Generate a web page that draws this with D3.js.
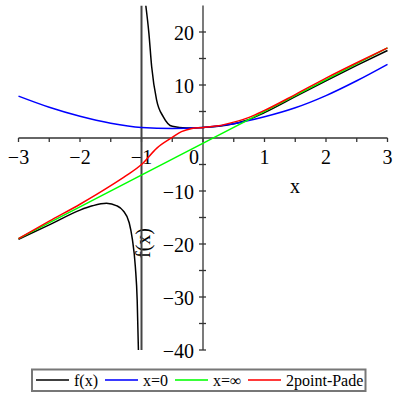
<!DOCTYPE html>
<html lang="en">
<head>
    <title>2point Pade</title>
    <script src="https://d3js.org/d3.v7.min.js"></script>
    <style>
        body { margin: 0; background: #fff; }
        text { font-family: "Liberation Serif", "Times New Roman", serif; fill: #000; }
        .curve { fill: none; stroke-width: 1.5; }
    </style>
</head>
<body>

<script>
    // values
    const xTicks = [-3, -2, -1, 0, 1, 2, 3];
    const yTicks = [-40, -30, -20, -10, 10, 20];
    const xMinor = [-2.5, -1.5, -0.5, 0.5, 1.5, 2.5];
    const yMinor = [-35, -25, -15, -5, 5, 15];
    const pole = -1;

    const fLeft = [[-3,-19.1],[-2.5,-16.4],[-2,-13.6],[-1.8,-12.8],[-1.57,-12.3],[-1.4,-12.8],
                   [-1.3,-13.7],[-1.2,-16],[-1.15,-19],[-1.1,-24.3],[-1.07,-30.6],[-1.05,-40]];
    const fRight = [[-0.93,25],[-0.88,19.8],[-0.835,13.5],[-0.755,7.2],[-0.645,4.0],[-0.5,2.2],
                    [-0.27,1.9],[0,2.0],[0.25,2.2],[0.5,2.7],[0.75,3.5],[1,4.8],[1.5,7.8],
                    [2,10.8],[2.5,13.7],[3,16.5]];
    const taylor0 = [[-3,7.9],[-2.5,5.8],[-2,4.1],[-1.5,2.8],[-1,2.0],[-0.5,1.8],[0,2.0],
                     [0.5,2.7],[1,4.0],[1.5,5.7],[2,8.0],[2.5,10.8],[3,13.9]];
    const asympt = [[-3,-19],[3,17]];
    const pade = [[-3,-19],[-2.5,-15.7],[-2,-12.5],[-1.5,-9.0],[-1.25,-7.1],[-1,-5.0],[-0.75,-1.9],
                  [-0.5,0.1],[-0.35,1.2],[-0.18,1.8],[0,2.0],[0.25,2.3],[0.5,3.0],[0.75,3.9],
                  [1,5.2],[1.5,8.2],[2,11.3],[2.5,14.2],[3,17.0]];

    const legendNames = ["f(x)", "x=0", "x=\u221e", "2point-Pade"];
    const colors = ["#000000", "#0000ff", "#00ff00", "#ff0000"];
    const legendColors = ["#404040", "#3a3aff", "#3aff3a", "#ff3a3a"];

    const svg = d3.select("body").append("svg").attr("width", 400).attr("height", 400);

    const x = d3.scaleLinear().domain([-3, 3]).range([18.5, 387.5]);
    const y = d3.scaleLinear().domain([-40, 25]).range([350, 5.5]);

    svg.append("clipPath").attr("id", "clip")
        .append("rect").attr("x", 0).attr("y", y(25)).attr("width", 400).attr("height", y(-40) - y(25));

    // axes
    const ax = svg.append("g").attr("stroke", "#333").attr("stroke-width", 1.3);
    ax.append("line").attr("x1", x(-3)).attr("x2", x(3)).attr("y1", y(0)).attr("y2", y(0));
    ax.append("line").attr("x1", x(0)).attr("x2", x(0)).attr("y1", y(25)).attr("y2", y(-40));
    ax.selectAll(".xt").data(xTicks.concat(xMinor)).join("line")
        .attr("x1", d => x(d)).attr("x2", d => x(d))
        .attr("y1", y(0)).attr("y2", y(0) + 4);
    ax.selectAll(".yt").data(yTicks.concat(yMinor)).join("line")
        .attr("x1", x(0) - 4).attr("x2", x(0) + 3)
        .attr("y1", d => y(d)).attr("y2", d => y(d));

    svg.append("g").selectAll("text").data(xTicks).join("text")
        .attr("x", d => x(d) + (d === 0 ? -9 : 0)).attr("y", y(0) + 26)
        .attr("text-anchor", "middle").style("font-size", "20px")
        .text(d => d < 0 ? "\u2212" + Math.abs(d) : d);
    svg.append("g").selectAll("text").data(yTicks).join("text")
        .attr("x", x(0) - 9).attr("y", d => y(d) + 8)
        .attr("text-anchor", "end").style("font-size", "20px")
        .text(d => d < 0 ? "\u2212" + Math.abs(d) : d);

    svg.append("text").attr("x", 295).attr("y", 193).attr("text-anchor", "middle")
        .style("font-size", "20px").text("x");
    svg.append("text").attr("transform", "translate(150,243) rotate(-90)")
        .attr("text-anchor", "middle").style("font-size", "20px").text("f(x)");

    // curves
    const line = d3.line().x(d => x(d[0])).y(d => y(d[1])).curve(d3.curveMonotoneX);
    const plot = svg.append("g").attr("clip-path", "url(#clip)");

    plot.append("line").attr("x1", x(pole)).attr("x2", x(pole))
        .attr("y1", y(25)).attr("y2", y(-40))
        .attr("stroke", "#444").attr("stroke-width", 2);
    [fLeft, fRight].forEach(s => plot.append("path").attr("class", "curve")
        .attr("d", line(s)).attr("stroke", colors[0]));
    plot.append("path").attr("class", "curve").attr("d", line(taylor0)).attr("stroke", colors[1]);
    plot.append("path").attr("class", "curve").attr("d", line(asympt)).attr("stroke", colors[2]);
    plot.append("path").attr("class", "curve").attr("d", line(pade)).attr("stroke", colors[3]);

    // legend
    const lg = svg.append("g");
    lg.append("rect").attr("x", 32).attr("y", 369.5).attr("width", 333.5).attr("height", 21.5)
        .attr("fill", "#fff").attr("stroke", "#777").attr("stroke-width", 2);
    const lineStarts = [36, 105, 175, 248];
    legendNames.forEach((n, i) => {
        lg.append("line").attr("x1", lineStarts[i]).attr("x2", lineStarts[i] + 33)
            .attr("y1", 380).attr("y2", 380)
            .attr("stroke", legendColors[i]).attr("stroke-width", 2);
        lg.append("text").attr("x", lineStarts[i] + 38).attr("y", 385.5)
            .style("font-size", "16px").text(n);
    });
</script>

</body>
</html>
